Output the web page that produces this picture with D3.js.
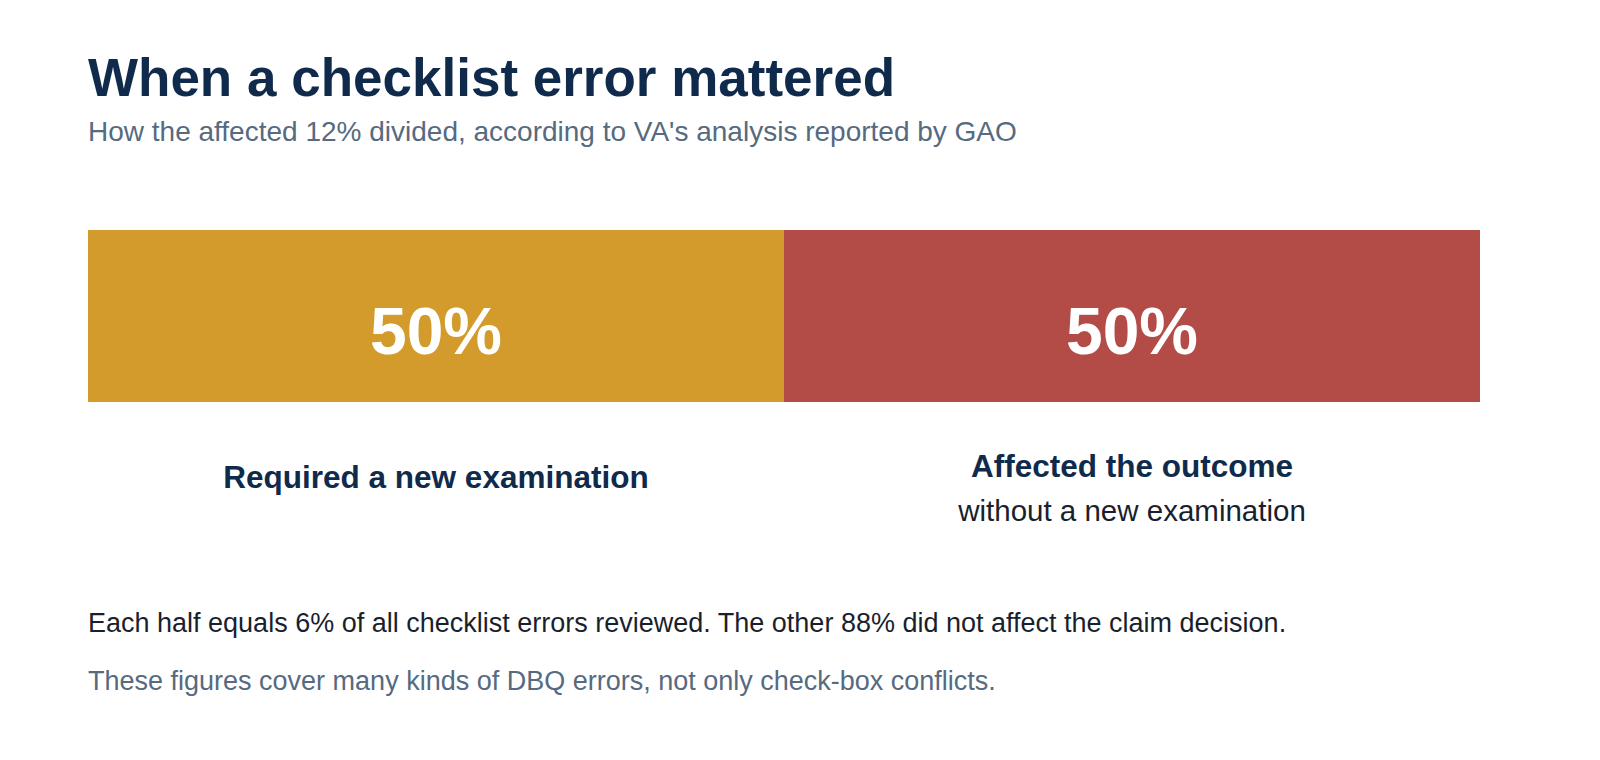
<!DOCTYPE html>
<html>
<head>
<meta charset="utf-8">
<script src="https://cdn.jsdelivr.net/npm/d3@7"></script>
<style>
  body { margin: 0; background: #fff; font-family: "Liberation Sans", Arial, sans-serif; }
</style>
</head>
<body>
<script>
// data
var categories = ['Required a new examination', 'Affected the outcome'];
var subLabels = ['', 'without a new examination'];
var shares = [50, 50];
var colors = ['#d29b2b', '#b34c47'];

var W = 1600, H = 760;
var svg = d3.select('body').append('svg').attr('width', W).attr('height', H);

svg.append('text').attr('x', 88).attr('y', 96)
  .style('font-size', '53px').style('font-weight', 'bold').style('fill', '#102a4c')
  .text('When a checklist error mattered');
svg.append('text').attr('x', 88).attr('y', 141)
  .style('font-size', '28px').style('fill', '#566a80')
  .text("How the affected 12% divided, according to VA's analysis reported by GAO");

var x = d3.scaleLinear().domain([0, d3.sum(shares)]).range([88, 1480]);
var starts = d3.cumsum([0].concat(shares)).slice(0, shares.length);

var seg = svg.selectAll('g.seg').data(shares).enter().append('g').attr('class', 'seg');
seg.append('rect')
  .attr('x', function(d, i) { return x(starts[i]); })
  .attr('width', function(d, i) { return x(starts[i] + d) - x(starts[i]); })
  .attr('y', 230).attr('height', 172)
  .attr('fill', function(d, i) { return colors[i]; });
seg.append('text')
  .attr('x', function(d, i) { return x(starts[i] + d / 2); })
  .attr('y', 354).attr('text-anchor', 'middle')
  .style('font-size', '66px').style('font-weight', 'bold').style('fill', '#fff')
  .text(function(d) { return d + '%'; });
seg.append('text')
  .attr('x', function(d, i) { return x(starts[i] + d / 2); })
  .attr('y', function(d, i) { return subLabels[i] ? 477 : 488; })
  .attr('text-anchor', 'middle')
  .style('font-size', '31.5px').style('font-weight', 'bold').style('fill', '#102a4c')
  .text(function(d, i) { return categories[i]; });
seg.append('text')
  .attr('x', function(d, i) { return x(starts[i] + d / 2); })
  .attr('y', 521).attr('text-anchor', 'middle')
  .style('font-size', '29.5px').style('fill', '#1a1f2e')
  .text(function(d, i) { return subLabels[i]; });

svg.append('text').attr('x', 88).attr('y', 632)
  .style('font-size', '27px').style('fill', '#1a1f2e')
  .text('Each half equals 6% of all checklist errors reviewed. The other 88% did not affect the claim decision.');
svg.append('text').attr('x', 88).attr('y', 690)
  .style('font-size', '27px').style('fill', '#566a80')
  .text('These figures cover many kinds of DBQ errors, not only check-box conflicts.');
</script>
</body>
</html>
